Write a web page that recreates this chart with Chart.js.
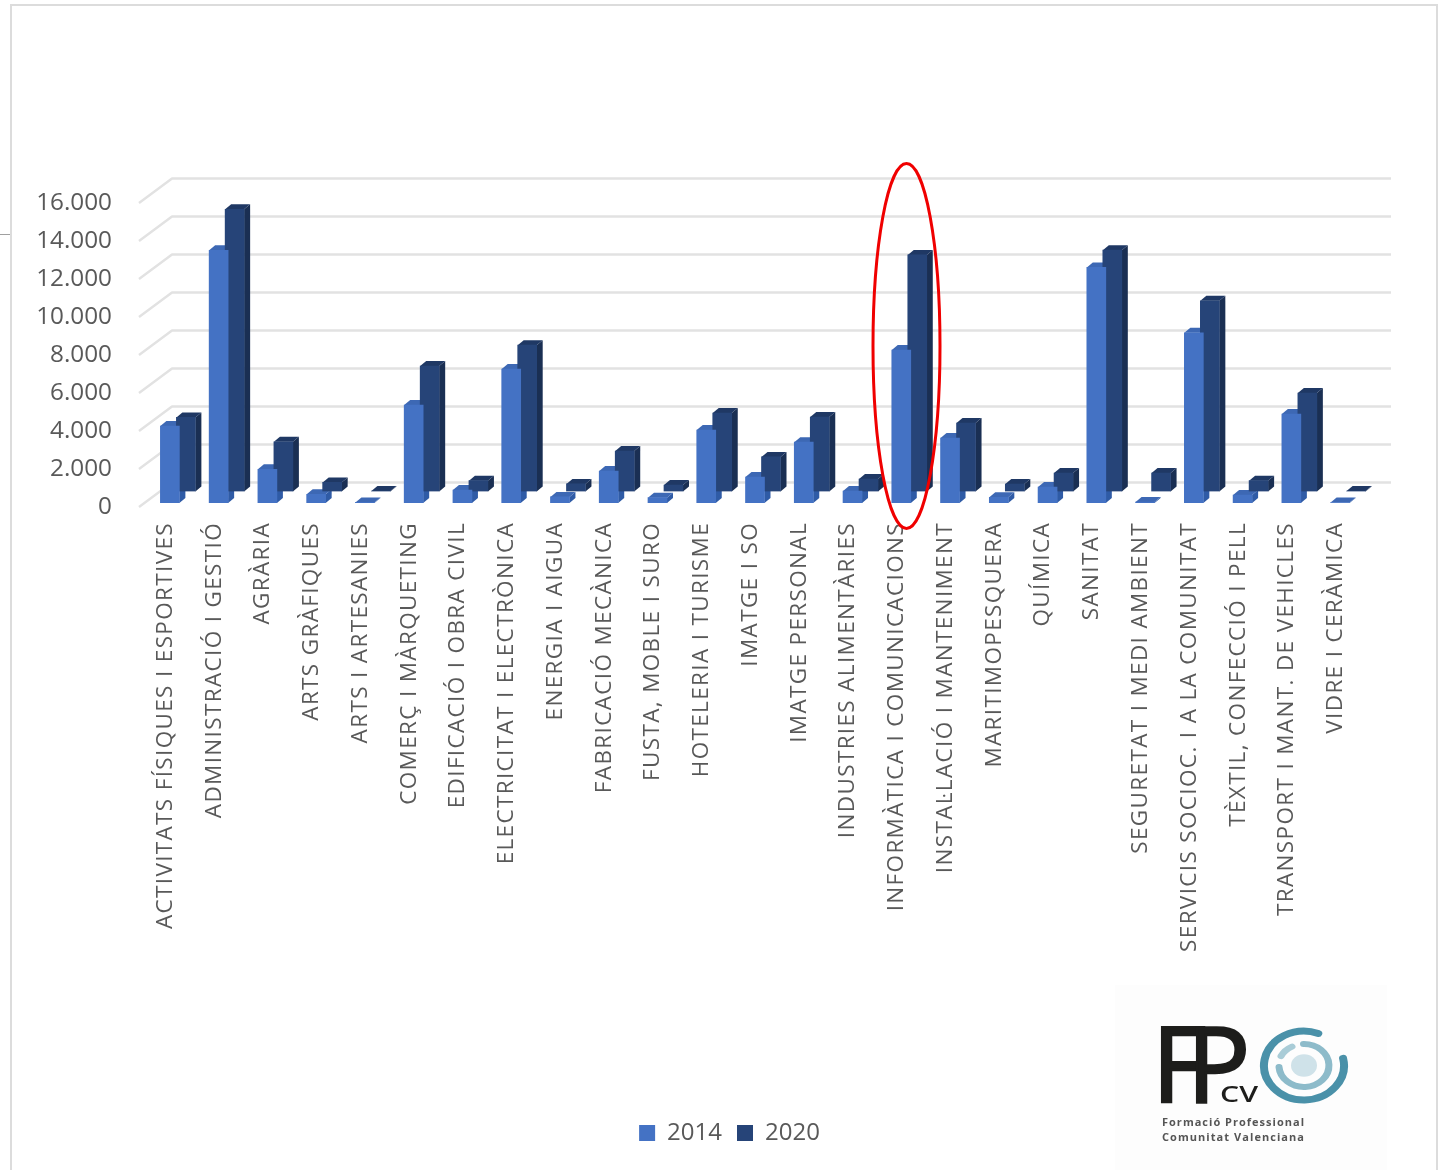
<!DOCTYPE html>
<html lang="ca">
<head>
<meta charset="utf-8">
<title>FP CV</title>
<script src="https://cdn.jsdelivr.net/npm/chart.js@4"></script>
<style>
html,body{margin:0;padding:0;background:#fff;width:1443px;height:1170px;overflow:hidden;position:relative}
#wrap{position:absolute;left:0;top:0;width:1443px;height:1170px}
canvas{display:block;filter:blur(.6px)}
#frame{position:absolute;left:10px;top:4px;width:1428px;height:1180px;border:2px solid #dcdcdc;box-sizing:border-box;pointer-events:none}
#tick{position:absolute;left:0;top:234px;width:10px;height:1px;background:#a0a0a0}
#logo{position:absolute;left:0;top:0;width:1443px;height:1170px;pointer-events:none;filter:blur(.5px)}
</style>
</head>
<body>
<div id="wrap"><canvas id="c" width="1443" height="1170"></canvas></div>
<div id="frame"></div><div id="tick"></div>
<svg id="logo" viewBox="0 0 1443 1170" xmlns="http://www.w3.org/2000/svg">
  <rect x="1115" y="985" width="272" height="185" fill="#fdfdfd"/>
  <g font-family="Open Sans" fill="#1d1d1b" stroke="#1d1d1b" stroke-width="2.6">
    <text x="1152" y="1102" font-size="105">F</text>
    <text x="1187" y="1102" font-size="105">P</text>
  </g>
  <text x="1220" y="1102" font-family="Open Sans" font-size="21" font-weight="600" fill="#1d1d1b" textLength="38" lengthAdjust="spacingAndGlyphs">CV</text>
  <g font-family="Open Sans" font-size="11" font-weight="700" fill="#555">
    <text x="1162" y="1126" textLength="142" lengthAdjust="spacing">Formació  Professional</text>
    <text x="1162" y="1141" textLength="142" lengthAdjust="spacing">Comunitat Valenciana</text>
  </g>
  <g transform="translate(1304 1065.5) scale(1 .86) translate(-1304 -1065)">
    <g fill="none" stroke-linecap="round">
      <path d="M1318.3 1027.7 A40 40 0 1 0 1343.1 1056.7" stroke="#4a91a9" stroke-width="8"/>
      <path d="M1279 1066.7 A25 25 0 1 0 1303.5 1040" stroke="#8dbbca" stroke-width="7"/>
      <path d="M1281 1054 A25 25 0 0 1 1292 1043" stroke="#a9ccd7" stroke-width="7"/>
    </g>
    <circle cx="1304" cy="1065" r="13" fill="#cfe2e9"/>
  </g>
</svg>
<script>
const categories = ["ACTIVITATS FÍSIQUES I ESPORTIVES","ADMINISTRACIÓ I GESTIÓ","AGRÀRIA","ARTS GRÀFIQUES","ARTS I ARTESANIES","COMERÇ I MÀRQUETING","EDIFICACIÓ I OBRA CIVIL","ELECTRICITAT I ELECTRÒNICA","ENERGIA I AIGUA","FABRICACIÓ MECÀNICA","FUSTA, MOBLE I SURO","HOTELERIA I TURISME","IMATGE I SO","IMATGE PERSONAL","INDUSTRIES ALIMENTÀRIES","INFORMÀTICA I COMUNICACIONS","INSTAL·LACIÓ I MANTENIMENT","MARITIMOPESQUERA","QUÍMICA","SANITAT","SEGURETAT I MEDI AMBIENT","SERVICIS SOCIOC. I A LA COMUNITAT","TÈXTIL, CONFECCIÓ I PELL","TRANSPORT I MANT. DE VEHICLES","VIDRE I CERÀMICA"];
const values2014 = [4050,13300,1770,460,30,5160,680,7050,320,1680,280,3840,1370,3200,630,8050,3420,300,840,12400,50,8960,420,4680,20];
const values2020 = [3900,14850,2620,480,20,6600,570,7700,400,2130,340,4130,1820,3920,660,12450,3600,390,970,12700,970,10040,570,5180,20];
const yTickLabels = ["0","2.000","4.000","6.000","8.000","10.000","12.000","14.000","16.000"];
const seriesNames = ["2014","2020"];

const AREA = {left:139, right:1358, top:203, bottom:507};
const GRID_BACK = {dx:33, dy:-24.5};
const PLANE = [{dx:6.5, dy:-4, front:"#4472c4", side:"#2f5ba6", top:"#3d68b4"},
               {dx:22.5, dy:-15.5, front:"#264478", side:"#1a2f53", top:"#1f3864"}];
const DEPTH = {dx:6, dy:-5};
const PAD_BOTTOM = 10;

function drawSides(c,meta,s){
  meta.data.forEach(b=>{
    const r=b.x+b.width/2;
    c.fillStyle=s.side;
    c.beginPath();c.moveTo(r,b.y);c.lineTo(r+DEPTH.dx,b.y+DEPTH.dy);c.lineTo(r+DEPTH.dx,b.base+DEPTH.dy);c.lineTo(r,b.base);c.closePath();c.fill();
  });
}
function drawTops(c,meta,s){
  meta.data.forEach(b=>{
    const l=b.x-b.width/2, r=b.x+b.width/2;
    c.fillStyle=s.top;
    c.beginPath();c.moveTo(l,b.y);c.lineTo(l+DEPTH.dx,b.y+DEPTH.dy);c.lineTo(r+DEPTH.dx,b.y+DEPTH.dy);c.lineTo(r,b.y);c.closePath();c.fill();
  });
}

const depthPlugin = {
  id:"depth",
  beforeDatasetsDraw(chart){
    const c = chart.ctx, y = chart.scales.y;
    c.save();
    c.strokeStyle = "#e2e2e2"; c.lineWidth = 2.4; c.lineJoin = "round";
    y.ticks.forEach(t=>{
      const p = y.getPixelForValue(t.value);
      c.beginPath();
      c.moveTo(AREA.left,p);
      c.lineTo(AREA.left+GRID_BACK.dx,p+GRID_BACK.dy);
      c.lineTo(AREA.right+GRID_BACK.dx,p+GRID_BACK.dy);
      c.stroke();
    });
    c.restore();
  },
  beforeDatasetDraw(chart,args){
    const c = chart.ctx;
    if(args.index===1){
      /* the 2014 sides and tops lie behind the 2020 column */
      c.save();
      c.translate(PLANE[0].dx,PLANE[0].dy);
      drawSides(c,chart.getDatasetMeta(0),PLANE[0]);
      drawTops(c,chart.getDatasetMeta(0),PLANE[0]);
      c.restore();
    }
    const s = PLANE[args.index];
    c.save();
    c.translate(s.dx,s.dy);
    if(args.index===1){
      drawSides(c,chart.getDatasetMeta(1),s);
      drawTops(c,chart.getDatasetMeta(1),s);
    }
  },
  afterDatasetDraw(chart){ chart.ctx.restore(); },
  afterDraw(chart){
    const c = chart.ctx;
    c.save();
    c.strokeStyle="#f00000"; c.lineWidth=3;
    c.beginPath();
    c.ellipse(906.5,346,33.5,182.5,0,0,Math.PI*2);
    c.stroke();
    c.restore();
  },
  afterLayout(chart){
    const l=chart.legend;
    l.left+=50.5; l.right+=50.5;
    l.bottom+=1106-l.top; l.top=1106;
  }
};

Chart.defaults.font.family = "'Open Sans'";
new Chart(document.getElementById("c"),{
  type:"bar",
  data:{labels:categories,datasets:[
    {label:seriesNames[0],data:values2014,backgroundColor:PLANE[0].front,grouped:false,barThickness:19},
    {label:seriesNames[1],data:values2020,backgroundColor:PLANE[1].front,grouped:false,barThickness:19}
  ]},
  options:{
    responsive:false,animation:false,devicePixelRatio:1,
    layout:{padding:{left:0,right:1443-AREA.right,top:AREA.top,bottom:PAD_BOTTOM}},
    plugins:{
      tooltip:{enabled:false},
      legend:{position:"bottom",labels:{boxWidth:16,boxHeight:16,padding:15,color:"#595959",font:{size:24}}}
    },
    scales:{
      x:{
        grid:{display:false},border:{display:false},
        ticks:{autoSkip:false,minRotation:90,maxRotation:90,padding:7,labelOffset:2,color:"#595959",font:{size:22.5}},
        afterFit(s){
          s.height = 1170-PAD_BOTTOM-(s.chart.legend?s.chart.legend.height:60)-AREA.bottom;
          if(!s._spaced){
            s._spaced=true;
            const base=s.draw;
            s.draw=function(area){
              const c=this.ctx;
              c.letterSpacing="1.35px";
              base.call(this,area);
              c.letterSpacing="0px";
            };
          }
        }
      },
      y:{
        min:0,max:16000,
        grid:{display:false},border:{display:false},
        ticks:{stepSize:2000,padding:19,color:"#595959",font:{size:24.3},
          callback:(v)=>yTickLabels[v/2000]},
        afterFit(s){ s.width = AREA.left; }
      }
    }
  },
  plugins:[depthPlugin]
});
</script>
</body>
</html>
